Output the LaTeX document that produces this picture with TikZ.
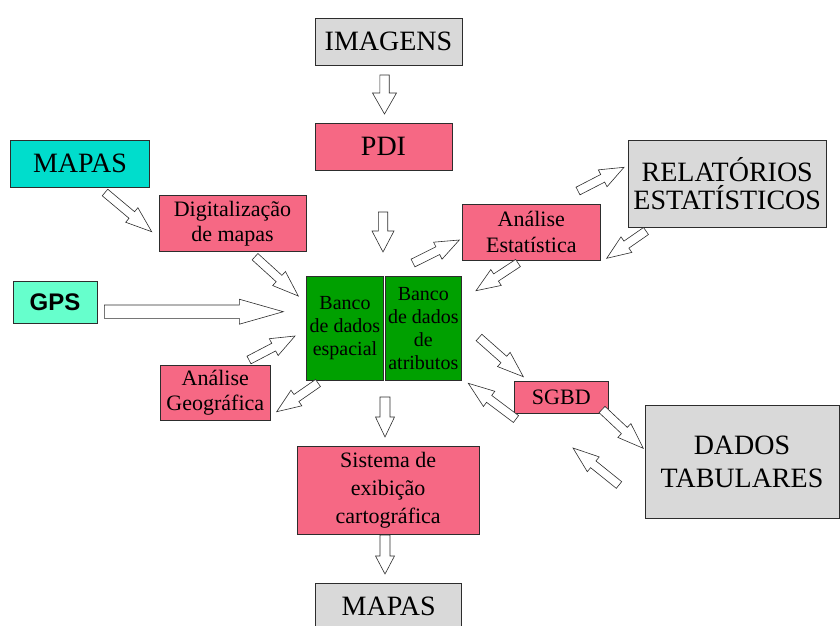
\documentclass[tikz,border=0pt]{standalone}
\usepackage{fontspec}
\setmainfont{Liberation Serif}
\newfontfamily\gpsfont{Liberation Sans}
\usetikzlibrary{calc, positioning}

\definecolor{boxgray}{RGB}{217,217,217}
\definecolor{boxpink}{RGB}{246,104,132}
\definecolor{boxteal}{RGB}{0,221,204}
\definecolor{boxaqua}{RGB}{102,255,204}
\definecolor{boxgreen}{RGB}{0,160,0}
\definecolor{edgegray}{RGB}{45,45,45}

\tikzset{
	blk/.style={draw=edgegray, line width=0.8pt, inner sep=0pt, align=center},
	bigbox/.style={blk, fill=boxgray, font=\fontsize{28}{25}\selectfont},
	pinkbox/.style={blk, fill=boxpink, font=\fontsize{22}{25}\selectfont},
	greenbox/.style={blk, fill=boxgreen, font=\fontsize{20}{23}\selectfont,
		minimum width=76.6pt, minimum height=104.7pt},
	hollowarrow/.style={draw=edgegray, fill=white, line width=0.6pt, line join=miter}
}

% tail, tip, shaft half width, head half width, head length
\newcommand{\blockarrow}[5]{%
	\coordinate (ba) at ($(#2)!#5pt!(#1)$);
	\draw[hollowarrow] ($(#1)!#3pt!90:(#2)$) -- ($(ba)!#3pt!90:(#2)$)
		-- ($(ba)!#4pt!90:(#2)$) -- (#2) -- ($(ba)!#4pt!-90:(#2)$)
		-- ($(ba)!#3pt!-90:(#2)$) -- ($(#1)!#3pt!-90:(#2)$) -- cycle;
}

\begin{document}
\begin{tikzpicture}[x=1pt, y=-1pt]
	\useasboundingbox (0,0) rectangle (840,625);

	% boxes
	\node[bigbox, minimum width=147pt, minimum height=47pt] (imagens) at (388.5,41.5) {IMAGENS};
	\node[pinkbox, font=\fontsize{28}{30}\selectfont, minimum width=137pt, minimum height=47pt] (pdi) at (383.5,146.5) {PDI};
	\node[bigbox, fill=boxteal, minimum width=139pt, minimum height=47pt] (mapasin) at (80,163.5) {MAPAS};
	\node[pinkbox, minimum width=147pt, minimum height=56pt] (digit) at (232.5,223.7) {Digitaliza\c{c}\~ao\\de mapas};
	\node[blk, fill=boxaqua, font=\gpsfont\bfseries\fontsize{24}{26}\selectfont,
		minimum width=84pt, minimum height=42pt] (gps) at (55,302) {GPS};
	\node[greenbox] (espacial) at (345,328.3) {Banco\\de dados\\espacial};
	\node[greenbox] (atributos) at (423.3,328.3) {Banco\\de dados\\de\\atributos};
	\node[pinkbox, font=\fontsize{22}{26}\selectfont, minimum width=137.3pt, minimum height=56pt] (estat) at (531.3,232) {An\'alise\\Estat\'istica};
	\node[bigbox, font=\fontsize{28}{28}\selectfont, minimum width=197.7pt, minimum height=87.3pt] (relat) at (727.2,183.7) {RELAT\'ORIOS\\ESTAT\'ISTICOS};
	\node[pinkbox, minimum width=94pt, minimum height=31.7pt] (sgbd) at (561.3,397.5) {SGBD};
	\node[bigbox, font=\fontsize{28}{33}\selectfont, minimum width=194pt, minimum height=113pt] (dados) at (742,461.5) {DADOS\\TABULARES};
	\node[pinkbox, minimum width=110.7pt, minimum height=55.7pt] (geo) at (215.3,392.8) {An\'alise\\Geogr\'afica};
	\node[pinkbox, font=\fontsize{22}{28}\selectfont, minimum width=181.7pt, minimum height=87.3pt] (sistema) at (388.2,490.3) {Sistema de\\exibi\c{c}\~ao\\cartogr\'afica};
	\node[bigbox, minimum width=146pt, minimum height=47pt] (mapasout) at (388.7,606.5) {MAPAS};

	% block arrows: tail / tip / shaft / head / head length
	\foreach \ta/\tb/\sw/\hw/\hlen [count=\i] in {
		{384.5,75}/{384.5,114}/4.7/12/21,
		{383,212}/{383,252}/4.7/11/21,
		{385,397}/{385,437}/5/9.5/20,
		{385,535}/{385,574}/5/9.5/18,
		{105,192.5}/{151.7,231.7}/4.3/9.5/26,
		{255,256.7}/{298.3,296}/4.3/9.5/26,
		{104.3,311.7}/{283.3,311.7}/6.7/12.5/44,
		{249,360}/{295,336}/4.3/9.5/24,
		{318,383}/{276.7,411.7}/4.3/9.5/24,
		{413,263}/{459.3,240}/4.3/9.5/24,
		{518,263}/{476,290.7}/4.3/9.5/24,
		{578,191}/{624,167.3}/4.3/9.5/24,
		{646,231}/{606.7,258.3}/4.3/9.5/24,
		{479,337.5}/{523.3,376.7}/4.3/9.5/26,
		{516,419}/{468.3,383.3}/4.3/9.5/26,
		{602,409.5}/{643.3,448.3}/4.3/9.5/26,
		{619,485}/{573,448}/4.3/9.5/26}{
		\coordinate (t\i) at (\ta);
		\coordinate (h\i) at (\tb);
		\blockarrow{t\i}{h\i}{\sw}{\hw}{\hlen}
	}
\end{tikzpicture}
\end{document}
